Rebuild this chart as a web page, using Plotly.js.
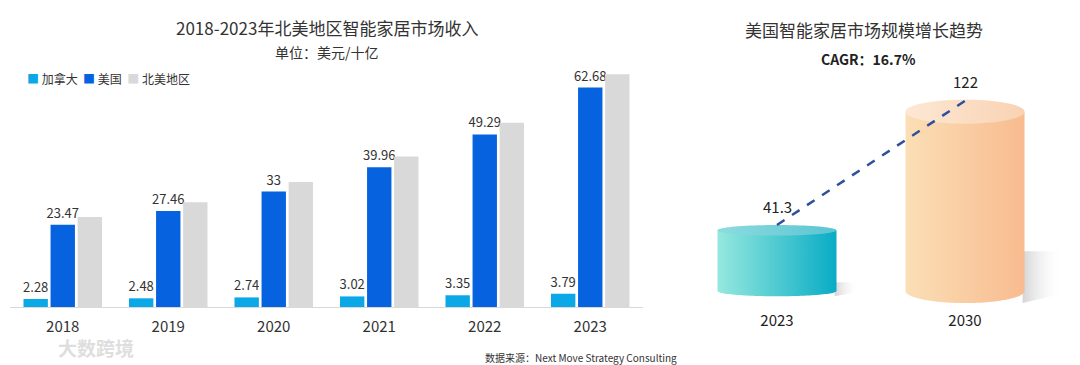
<!DOCTYPE html>
<html>
<head>
<meta charset="utf-8">
<script src="https://cdn.plot.ly/plotly-3.0.1.min.js"></script>
<style>html,body{margin:0;padding:0;background:#fff}#chart{width:1080px;height:365px}</style>
</head>
<body>
<div id="chart"></div>
<script>
// ---- data ----
const years = ['2018', '2019', '2020', '2021', '2022', '2023'];
const canada = [2.28, 2.48, 2.74, 3.02, 3.35, 3.79];
const usa = [23.47, 27.46, 33, 39.96, 49.29, 62.68];
const northAmerica = [25.75, 29.94, 35.74, 42.98, 52.64, 66.47];
const seriesNames = ['加拿大', '美国', '北美地区'];

const cylYears = ['2023', '2030'];
const cylValues = [41.3, 122];
const cagrText = 'CAGR：16.7%';

// ---- style ----
const FONT = '"Noto Sans CJK SC", "Noto Sans", sans-serif';
const W = 1080, H = 365;
const px = v => v / W, py = v => (H - v) / H;
const CYL_HALF_W = 0.3165;
const CYL_SCALE = 1.47;   // px per unit
const CYL_BASE = 291;     // px
const CYL_RY = [3.6, 8.2];
const CYL_BODY = [['#96e8de', '#08acc5'], ['#fbdfb6', '#f8bb8f']];
const CYL_TOP = [['#8cdcdf', '#5cc4d3'], ['#fde8d4', '#f9d2b4']];
const SHADOW_H = [6, 27];
const SHADOW_W = [0.12, 0.21];

const traces = [];
const barColors = ['#0aa8e6', '#0762e0', '#d9d9d9'];
[canada, usa, northAmerica].forEach((vals, i) => {
  traces.push({
    type: 'bar', x: years, y: vals, name: seriesNames[i],
    marker: {color: barColors[i]},
    text: i < 2 ? vals.map(String) : undefined,
    textposition: i < 2 ? 'outside' : 'none',
    constraintext: 'none', cliponaxis: false,
    textfont: {size: 13, color: '#333', family: FONT},
    hoverinfo: 'x+y+name', xaxis: 'x', yaxis: 'y'
  });
});

// cylinders
function ellipsePts(cx, cy, rx, ry, a0, a1, n) {
  const xs = [], ys = [];
  for (let k = 0; k <= n; k++) {
    const a = a0 + (a1 - a0) * k / n;
    xs.push(cx + rx * Math.cos(a));
    ys.push(cy + ry * Math.sin(a));
  }
  return [xs, ys];
}
cylValues.forEach((v, i) => {
  const ry = CYL_RY[i], w = CYL_HALF_W;
  // shadow
  traces.push({
    type: 'scatter', mode: 'none', xaxis: 'x2', yaxis: 'y2', showlegend: false, hoverinfo: 'skip',
    x: [i + w - 0.01, i + w + SHADOW_W[i], i + w + SHADOW_W[i], i + w - 0.01],
    y: [SHADOW_H[i], SHADOW_H[i], -ry * 0.2, -ry],
    fill: 'toself',
    fillgradient: {type: 'horizontal', colorscale: [[0, 'rgba(170,170,170,0.5)'], [1, 'rgba(255,255,255,0)']]}
  });
  // body
  const [bx, by] = ellipsePts(i, 0, w, ry, Math.PI, 2 * Math.PI, 60);
  traces.push({
    type: 'scatter', mode: 'none', xaxis: 'x2', yaxis: 'y2', showlegend: false, hoverinfo: 'skip',
    x: [i - w].concat(bx, [i + w, i - w]),
    y: [v].concat(by, [v, v]),
    fill: 'toself',
    fillgradient: {type: 'horizontal', colorscale: [[0, CYL_BODY[i][0]], [1, CYL_BODY[i][1]]]}
  });
  // top
  const [tx, ty] = ellipsePts(i, v, w, ry, 0, 2 * Math.PI, 80);
  traces.push({
    type: 'scatter', mode: 'none', xaxis: 'x2', yaxis: 'y2', showlegend: false, hoverinfo: 'skip',
    x: tx, y: ty, fill: 'toself',
    fillgradient: {type: 'horizontal', colorscale: [[0, CYL_TOP[i][0]], [1, CYL_TOP[i][1]]]}
  });
});
// dashed trend
traces.push({
  type: 'scatter', mode: 'lines', xaxis: 'x2', yaxis: 'y2', showlegend: false,
  x: [0, 1.01], y: cylValues.map((v, i) => v + CYL_RY[i]),
  line: {color: '#2f4f9c', width: 2.5, dash: 'dash'}
});

function note(text, x, y, size, color, extra) {
  return Object.assign({text: text, x: px(x), y: py(y), xref: 'paper', yref: 'paper', xanchor: 'center', yanchor: 'middle', showarrow: false, font: {size: size, color: color, family: FONT}}, extra || {});
}
// compact legend row built from the series names / colours
const legendText = seriesNames.map((n, i) =>
  '<span style="color:' + barColors[i] + '">■</span> ' + n).join('&nbsp;&nbsp;');

const annotations = [
  note('2018-2023年北美地区智能家居市场收入', 327, 27, 17, '#333'),
  note('单位：美元/十亿', 327, 52, 14, '#333'),
  note(legendText, 25, 78, 12, '#333', {xanchor: 'left'}),
  note('数据来源：Next Move Strategy Consulting', 581, 357, 10, '#333'),
  note('<b>大数跨境</b>', 96, 347, 19, '#dedede'),
  note('美国智能家居市场规模增长趋势', 864, 29, 17, '#333'),
  note('<b>' + cagrText + '</b>', 868, 59, 14, '#222')
];
cylValues.forEach((v, i) => {
  annotations.push({text: String(v), x: i, y: v + CYL_RY[i], xref: 'x2', yref: 'y2', xanchor: 'center', yanchor: 'bottom', yshift: 6, showarrow: false, font: {size: 15, color: '#222', family: FONT}});
});

const layout = {
  width: W, height: H, margin: {l: 0, r: 0, t: 0, b: 0},
  paper_bgcolor: '#fff', plot_bgcolor: 'rgba(0,0,0,0)',
  font: {family: FONT, color: '#333'},
  barmode: 'group', bargap: 0.23, bargroupgap: 0.1,
  showlegend: false,
  xaxis: {domain: [px(10), px(643)], type: 'category', showline: true, linecolor: '#d9d9d9', linewidth: 1, ticks: '', ticklabelstandoff: 6, tickfont: {size: 15, color: '#333', family: FONT}, showgrid: false, zeroline: false, fixedrange: true, anchor: 'y'},
  yaxis: {domain: [py(307), py(60)], range: [0, 247 / 3.5], showgrid: false, zeroline: false, showticklabels: false, showline: false, fixedrange: true, anchor: 'x'},
  xaxis2: {domain: [px(683), px(1059)], range: [-0.5, 1.5], tickvals: [0, 1], ticktext: cylYears, ticks: '', ticklabelstandoff: 5, showgrid: false, zeroline: false, showline: false, tickfont: {size: 15, color: '#222', family: FONT}, fixedrange: true, anchor: 'y2'},
  yaxis2: {domain: [py(305), py(60)], range: [-(305 - CYL_BASE) / CYL_SCALE, (CYL_BASE - 60) / CYL_SCALE], showgrid: false, zeroline: false, showticklabels: false, fixedrange: true, anchor: 'x2'},
  annotations: annotations
};
Plotly.newPlot('chart', traces, layout, {displayModeBar: false, staticPlot: true});
</script>
</body>
</html>
